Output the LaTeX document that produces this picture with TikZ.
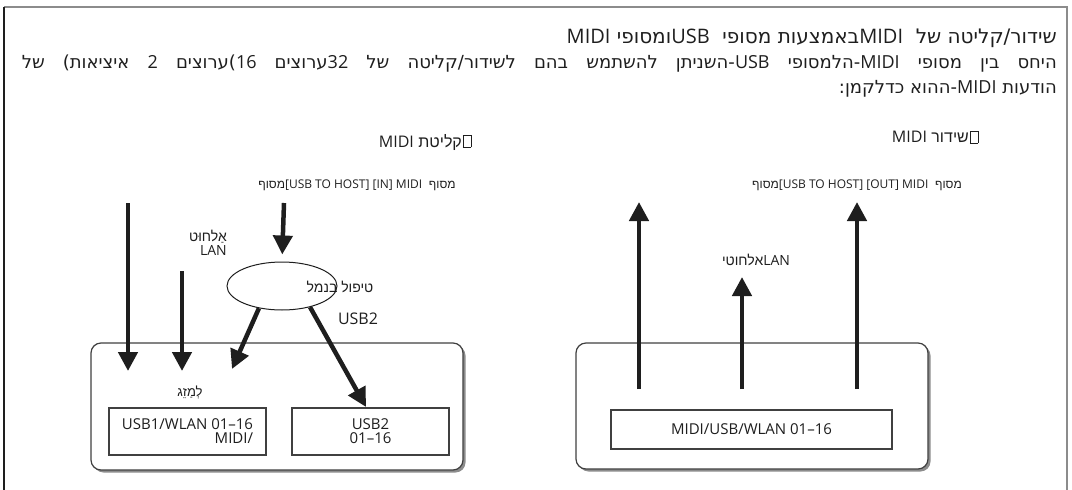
\documentclass[tikz,border=0pt]{standalone}
\usepackage{fontspec}
\setmainfont{Open Sans}
\newfontfamily\hebfont[Script=Hebrew]{Liberation Sans}
\newfontfamily\textheb[Script=Hebrew]{DejaVu Sans}
\newfontfamily\latfont{Open Sans}
\usetikzlibrary{arrows.meta,shadows,shapes.geometric}
\TeXXeTstate=1
\definecolor{inkdark}{HTML}{1E1E1E}
\definecolor{framegray}{HTML}{8C8C8C}
\newcommand{\heb}[1]{{\hebfont\beginR #1\endR}}
\newcommand{\bodyheb}[1]{{\textheb\beginR #1\endR}}
\newcommand{\lat}[1]{\beginL{\latfont #1}\endL}
\newcommand{\glyphbox}{{\setlength{\fboxsep}{0pt}\setlength{\fboxrule}{0.5pt}\fbox{\rule{0pt}{0.72em}\hspace{0.45em}}}}
\newcommand{\fs}[1]{\fontsize{#1}{#1}\selectfont}
\tikzset{
  bigarrow/.style={line width=4.5pt, draw=inkdark, -{Triangle[width=19pt,length=19pt]}},
  panelbox/.style={draw=inkdark!85, line width=1.2pt, fill=white, rounded corners=10pt,
    drop shadow={shadow xshift=2.5pt, shadow yshift=-2.5pt, fill=black!45, opacity=1}},
  chanbox/.style={draw=inkdark!85, line width=1.1pt, fill=white, text=inkdark},
  lbl/.style={text=inkdark, inner sep=0pt},
}

\begin{document}
\begin{tikzpicture}[x=1pt,y=-1pt]
  \useasboundingbox (0,0) rectangle (1072,490);
  % Frame
  \draw[framegray, line width=1.5pt] (4,7) -- (1067,7) -- (1067,490);
  \draw[inkdark, line width=1.5pt] (4,7) -- (4,490);

  % Heading text
  \node[lbl, anchor=east, font=\fs{20}] (title) at (1057,38)
    {\bodyheb{שידור/קליטה של~~\lat{MIDI}\kern0ptבאמצעות מסופי~~\lat{USB}\kern0ptומסופי \lat{MIDI}}};
  \node[lbl, anchor=east, font=\fs{18}] (introa) at (1057,64)
    {\hbox to 1035pt{\bodyheb{היחס בין מסופי \lat{MIDI}\kern0pt-הלמסופי \lat{USB}\kern0pt-השניתן להשתמש בהם לשידור/קליטה של \lat{32}\kern0ptערוצים \lat{16}\kern0pt)ערוצים \lat{2} איציאות) של}}};
  \node[lbl, anchor=east, font=\fs{18}] (introb) at (1057,89)
    {\bodyheb{הודעות \lat{MIDI}\kern0pt-ההוא כדלקמן:}};

  % Reception (left)
  \node[lbl, font=\fs{16}] (recvhead) at (425,142) {\heb{\glyphbox\kern1pt קליטת \lat{MIDI}}};
  \node[lbl, font=\fs{12}] (recvport) at (357,185)
    {\heb{מסוף~~\lat{[USB TO HOST] [IN] MIDI}\kern0ptמסוף}};
  \node[panelbox, minimum width=372, minimum height=127] (recvpanel) at (277,406.5) {};
  \node[chanbox, minimum width=157, minimum height=47, align=right, font=\fontsize{15}{14}\selectfont]
    (mixbox) at (187.5,431.5) {USB1/WLAN 01–16\\MIDI/};
  \node[chanbox, minimum width=157, minimum height=47, align=center, font=\fontsize{15}{14}\selectfont]
    (usbtwobox) at (370.5,431.5) {USB2\\01–16};
  \node[ellipse, draw=inkdark, line width=1pt, minimum width=110, minimum height=48] (port) at (282,286) {};
  \node[lbl, font=\fs{14}] (portlbl) at (340,287) {\heb{טיפול בנמל}};
  \node[lbl, font=\fs{16}] (usbtwolbl) at (358,319) {USB2};
  \node[lbl, font=\fs{14}, align=right, anchor=east] (wlanlbl) at (227,243) {\heb{אַלחוּט}\\\lat{LAN}};
  \node[lbl, font=\fs{13}] (mergelbl) at (190,392) {\heb{לְמַזֵג}};

  \coordinate (usbin) at (128,203);
  \coordinate (usbend) at (128,371);
  \coordinate (lanin) at (182,271);
  \coordinate (lanend) at (182,371);
  \coordinate (hostin) at (284,203);
  \coordinate (mixend) at (232,369);
  \coordinate (usbtwoend) at (366,407);
  \draw[bigarrow] (usbin) -- (usbend);
  \draw[bigarrow] (lanin) -- (lanend);
  \draw[bigarrow, shorten >=7pt] (hostin) -- (port.north);
  \draw[bigarrow] (port.224) -- (mixend);
  \draw[bigarrow] (port.-37) -- (usbtwoend);

  % Transmission (right)
  \node[lbl, font=\fs{16}] (sendhead) at (935,137) {\heb{\glyphbox\kern1pt שידור \lat{MIDI}}};
  \node[lbl, font=\fs{12}] (sendport) at (857,185)
    {\heb{מסוף~~\lat{[USB TO HOST] [OUT] MIDI}\kern0ptמסוף}};
  \node[panelbox, minimum width=352, minimum height=126] (sendpanel) at (752,406) {};
  \node[chanbox, minimum width=281, minimum height=39, font=\fs{15}] (allbox) at (751.5,429.5) {MIDI/USB/WLAN 01–16};
  \node[lbl, font=\fs{14}] (sendlan) at (756,260) {\heb{\lat{LAN}\kern0ptאלחוטי}};

  \coordinate (midiout) at (639,202);
  \coordinate (midifrom) at (639,389);
  \coordinate (lanout) at (742,277);
  \coordinate (lanfrom) at (742,389);
  \coordinate (hostout) at (857,202);
  \coordinate (hostfrom) at (857,389);
  \draw[bigarrow] (midifrom) -- (midiout);
  \draw[bigarrow] (lanfrom) -- (lanout);
  \draw[bigarrow] (hostfrom) -- (hostout);
\end{tikzpicture}
\end{document}
